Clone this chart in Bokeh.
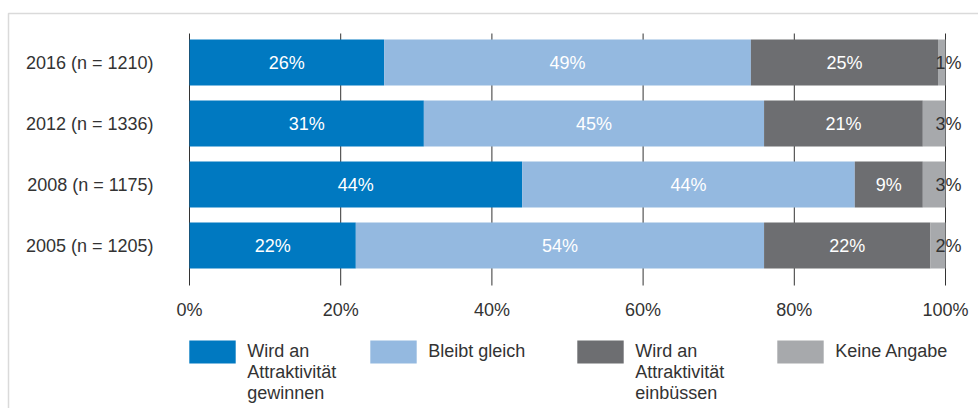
import numpy as np
from bokeh.plotting import figure
from bokeh.models import (ColumnDataSource, FixedTicker, PrintfTickFormatter, Legend,
                          LegendItem, BoxAnnotation, LabelSet)
from bokeh.core.properties import value
from bokeh.embed import file_html
from bokeh.resources import INLINE

# ---- data (bottom row first) ----
rows = ["2005 (n = 1205)", "2008 (n = 1175)", "2012 (n = 1336)", "2016 (n = 1210)"]
series_names = ["Wird an\nAttraktivität\ngewinnen", "Bleibt gleich",
                "Wird an\nAttraktivität\neinbüssen", "Keine Angabe"]
gewinnen = [22, 44, 31, 26]
gleich = [54, 44, 45, 49]
einbuessen = [22, 9, 21, 25]
keine = [2, 3, 3, 1]
x_ticks = [0, 20, 40, 60, 80, 100]

colors = ["#0079C1", "#94B9E0", "#6D6E71", "#A7A9AC"]
FONT = "Liberation Sans"
TXT = "#333333"

series = [gewinnen, gleich, einbuessen, keine]
totals = np.sum(np.array(series, dtype=float), axis=0)
ypos = list(range(len(rows)))

# frame covers the whole canvas; axes are pinned inside it
W, H = 978, 408
PX_X = 7.56          # pixels per percent
PX_Y = 61.0          # pixels per row
x0_px, ytop_px = 189, 62
x_range = (-x0_px / PX_X, (W - x0_px) / PX_X)
y_range = (3 - (H - ytop_px) / PX_Y, 3 + ytop_px / PX_Y)
grid_top = 3 + (ytop_px - 33) / PX_Y
grid_bottom = 3 - (285 - ytop_px) / PX_Y

p = figure(width=W, height=H, min_border=0, x_range=x_range, y_range=y_range,
           output_backend="svg", toolbar_location=None)
p.outline_line_color = None
p.background_fill_color = "white"
p.border_fill_color = "white"
p.xgrid.grid_line_color = None
p.ygrid.grid_line_color = None

# vertical grid lines at the ticks, limited to the bar area
p.segment(x0=x_ticks, x1=x_ticks, y0=[grid_bottom] * len(x_ticks), y1=[grid_top] * len(x_ticks),
          line_color="#333333", line_width=1, level="underlay")

renderers = []
left = np.zeros(len(rows))
for i, (vals, col) in enumerate(zip(series, colors)):
    share = np.array(vals, dtype=float) / totals * 100
    right = left + share
    src = ColumnDataSource(dict(y=ypos, left=left, right=right, mid=(left + right) / 2,
                                lab=[f"{v}%" for v in vals]))
    r = p.hbar(y="y", left="left", right="right", height=0.754, source=src,
               fill_color=col, line_color=None)
    renderers.append(r)
    if i < 3:
        ls = LabelSet(x="mid", y="y", text="lab", source=src, text_color="white",
                      text_align="center", text_baseline="middle",
                      text_font=value(FONT), text_font_size="18px")
    else:
        ls = LabelSet(x="right", y="y", text="lab", source=src, text_color=TXT,
                      x_offset=-10, text_align="left", text_baseline="middle",
                      text_font=value(FONT), text_font_size="18px")
    p.add_layout(ls)
    left = right

# x axis (pinned at the bottom of the bar area)
p.xaxis.fixed_location = grid_bottom
p.xaxis.ticker = FixedTicker(ticks=x_ticks)
p.xaxis.formatter = PrintfTickFormatter(format="%d%%")
p.xaxis.axis_line_color = None
p.xaxis.major_tick_line_color = None
p.xaxis.minor_tick_line_color = None
p.xaxis.major_tick_out = 0
p.xaxis.major_label_standoff = 14
p.xaxis.major_label_text_font = FONT
p.xaxis.major_label_text_font_size = "18px"
p.xaxis.major_label_text_color = TXT

# y axis (pinned at 0%)
p.yaxis.fixed_location = 0
p.yaxis.ticker = FixedTicker(ticks=ypos)
p.yaxis.major_label_overrides = {i: r for i, r in enumerate(rows)}
p.yaxis.axis_line_color = None
p.yaxis.major_tick_line_color = None
p.yaxis.minor_tick_line_color = None
p.yaxis.major_tick_out = 0
p.yaxis.major_label_standoff = 36
p.yaxis.major_label_text_font = FONT
p.yaxis.major_label_text_font_size = "18px"
p.yaxis.major_label_text_color = TXT

# legends (one per item for exact placement); glyph is drawn with a 10% inset
GW, GH = 58, 29
LINE_H = 18 * 1.3
sq_left = [189, 370, 577, 777]
sq_center_y = 352.5
for i, r in enumerate(renderers):
    nlines = series_names[i].count("\n") + 1
    # pad with leading blank lines so the swatch lines up with the first text line
    label = "\n" * (nlines - 1) + series_names[i]
    tot_lines = 2 * nlines - 1
    h = max(GH, tot_lines * LINE_H)
    shift = 7 if nlines > 1 else 1
    bottom_px = sq_center_y + h / 2 - shift
    leg = Legend(items=[LegendItem(label=label, renderers=[r])],
                 location=(sq_left[i] - 0.1 * GW, H - bottom_px), orientation="horizontal",
                 padding=0, margin=0, border_line_color=None, background_fill_alpha=0,
                 glyph_width=GW, glyph_height=GH, label_standoff=6,
                 label_text_font=FONT, label_text_font_size="18px",
                 label_text_color=TXT, label_text_line_height=1.3)
    p.add_layout(leg, "center")

# outer frame line
box = BoxAnnotation(left=8, right=3000, top=13, bottom=3000,
                    left_units="canvas", right_units="canvas",
                    top_units="canvas", bottom_units="canvas",
                    fill_alpha=0, line_color="#858585", line_width=1.5, level="overlay")
p.add_layout(box)

open("out.html", "w").write(file_html(p, INLINE))
